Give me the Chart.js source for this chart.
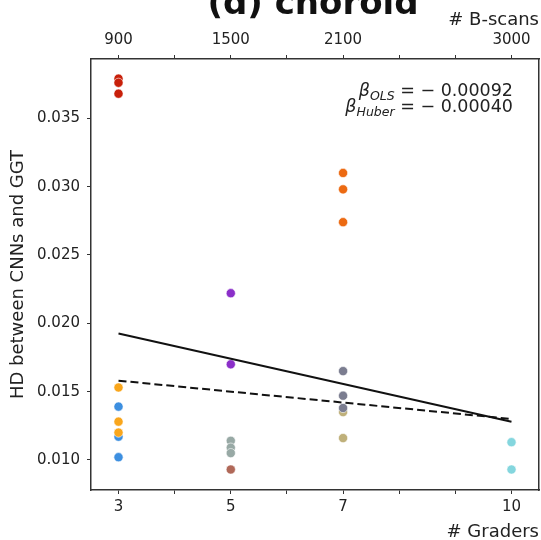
<!DOCTYPE html>
<html>
<head>
<meta charset="utf-8">
<script src="https://cdn.jsdelivr.net/npm/chart.js@4"></script>
<style>
  html, body { margin: 0; padding: 0; background: #fff; }
  canvas { display: block; }
</style>
</head>
<body>
<canvas id="chart" width="541" height="540"></canvas>
<script>
// axis ticks
const graderTicks = [3, 4, 5, 6, 7, 8, 9, 10];
const graderLabels = [3, 5, 7, 10];
const bscanTicks = [900, 1200, 1500, 1800, 2100, 2400, 2700, 3000];
const bscanLabels = [900, 1500, 2100, 3000];
const hdTicks = [0.010, 0.015, 0.020, 0.025, 0.030, 0.035];

// HD values, grouped by number of graders
const hd3Red = [0.0379, 0.0376, 0.0368];
const hd3Blue = [0.0139, 0.0117, 0.0102];
const hd3Amber = [0.0153, 0.0128, 0.0120];
const hd5Purple = [0.0222, 0.0170];
const hd5Gray = [0.0114, 0.0109, 0.0105];
const hd5Brown = [0.0093];
const hd7Khaki = [0.0135, 0.0116];
const hd7Orange = [0.0310, 0.0298, 0.0274];
const hd7Slate = [0.0165, 0.0147, 0.0138];
const hd10Cyan = [0.0113, 0.0093];

// regression lines
const fitX = [3, 10];
const olsFit = [0.01925, 0.0128];
const huberFit = [0.0158, 0.0130];
const betaOLS = '0.00092';
const betaHuber = '0.00040';

const chartTitle = '(d) choroid';
const FONT = '"DejaVu Sans", sans-serif';

function pts(x, values) {
    return values.map(v => ({ x: x, y: v }));
}

function scatterSet(x, values, color) {
    return {
        type: 'scatter',
        data: pts(x, values),
        backgroundColor: color,
        borderColor: '#ffffff',
        borderWidth: 0.6,
        pointRadius: 4.6,
        pointHoverRadius: 4.6
    };
}

function lineSet(values, dash) {
    return {
        type: 'line',
        data: fitX.map((x, i) => ({ x: x, y: values[i] })),
        borderColor: '#111',
        borderWidth: 2,
        borderDash: dash,
        pointRadius: 0,
        fill: false,
        tension: 0
    };
}

// drawing order: first is bottom
const datasets = [
    scatterSet(3, hd3Red, '#c8200a'),
    scatterSet(3, hd3Blue, '#3d8fe0'),
    scatterSet(3, hd3Amber, '#f9a61c'),
    scatterSet(5, hd5Purple, '#8b2fc9'),
    scatterSet(5, hd5Gray, '#98a9a5'),
    scatterSet(5, hd5Brown, '#b06858'),
    scatterSet(7, hd7Khaki, '#bfb07a'),
    scatterSet(7, hd7Orange, '#ec6a12'),
    scatterSet(7, hd7Slate, '#7b7d90'),
    scatterSet(10, hd10Cyan, '#84d6de'),
    lineSet(olsFit, []),
    lineSet(huberFit, [8, 4])
];
datasets.forEach((d, i) => { d.order = datasets.length - i; });

function drawBeta(ctx, sub, value, right, base) {
    const rest = ' = \u2212 ' + value;
    ctx.font = '17.5px ' + FONT;
    let x = right - ctx.measureText(rest).width;
    ctx.fillText(rest, x, base);
    ctx.font = 'italic 12.5px ' + FONT;
    x -= ctx.measureText(sub).width;
    ctx.fillText(sub, x, base + 4);
    ctx.font = 'italic 17.5px ' + FONT;
    x -= ctx.measureText('\u03b2').width;
    ctx.fillText('\u03b2', x, base);
}

const textPlugin = {
    id: 'textPlugin',
    afterDraw(chart) {
        const ctx = chart.ctx;
        ctx.save();
        ctx.fillStyle = '#111';
        ctx.textBaseline = 'alphabetic';
        ctx.textAlign = 'center';
        ctx.font = 'bold 34px ' + FONT;
        ctx.fillText(chartTitle, 313, 14);
        ctx.textAlign = 'left';
        ctx.fillStyle = '#222';
        drawBeta(ctx, 'OLS', betaOLS, 513, 96);
        drawBeta(ctx, 'Huber', betaHuber, 513, 112);
        ctx.restore();
    }
};

const tickFont = { family: FONT, size: 15 };

new Chart(document.getElementById('chart'), {
    data: { datasets: datasets },
    options: {
        responsive: false,
        animation: false,
        devicePixelRatio: 1,
        layout: { padding: 0, autoPadding: false },
        plugins: {
            legend: { display: false },
            tooltip: { enabled: false }
        },
        scales: {
            x: {
                type: 'linear',
                position: 'bottom',
                min: 2.51,
                max: 10.49,
                afterBuildTicks: s => { s.ticks = graderTicks.map(v => ({ value: v })); },
                afterFit: s => { s.height = 50; s.paddingLeft = 0; s.paddingRight = 0; },
                ticks: {
                    font: tickFont,
                    color: '#222',
                    padding: 4,
                    maxRotation: 0,
                    autoSkip: false,
                    callback: v => graderLabels.includes(v) ? String(v) : ''
                },
                grid: { drawOnChartArea: false, tickLength: 4, tickColor: '#333', tickWidth: 1 },
                border: { color: '#333', width: 1.5 },
                title: {
                    display: true,
                    text: '# Graders',
                    align: 'end',
                    color: '#222',
                    font: { family: FONT, size: 18 },
                    padding: { top: 0, bottom: -3 }
                }
            },
            x2: {
                type: 'linear',
                position: 'top',
                min: 753,
                max: 3147,
                afterBuildTicks: s => { s.ticks = bscanTicks.map(v => ({ value: v })); },
                afterFit: s => { s.height = 59; s.paddingLeft = 0; s.paddingRight = 0; },
                ticks: {
                    font: tickFont,
                    color: '#222',
                    padding: 6,
                    maxRotation: 0,
                    autoSkip: false,
                    callback: v => bscanLabels.includes(v) ? String(v) : ''
                },
                grid: { drawOnChartArea: false, tickLength: 4, tickColor: '#333', tickWidth: 1 },
                border: { color: '#333', width: 1.5 },
                title: {
                    display: true,
                    text: '# B-scans',
                    align: 'end',
                    color: '#222',
                    font: { family: FONT, size: 18 },
                    padding: { top: 10, bottom: 0 }
                }
            },
            y: {
                type: 'linear',
                position: 'left',
                min: 0.0078,
                max: 0.03934,
                afterBuildTicks: s => { s.ticks = hdTicks.map(v => ({ value: v })); },
                afterFit: s => { s.width = 91; },
                ticks: {
                    font: tickFont,
                    color: '#222',
                    padding: 7,
                    callback: v => v.toFixed(3)
                },
                grid: { drawOnChartArea: false, tickLength: 4, tickColor: '#333', tickWidth: 1 },
                border: { color: '#333', width: 1.5 },
                title: {
                    display: true,
                    text: 'HD between CNNs and GGT',
                    color: '#222',
                    font: { family: FONT, size: 18 },
                    padding: { top: 8, bottom: 0 }
                }
            },
            y2: {
                type: 'linear',
                position: 'right',
                min: 0.0078,
                max: 0.03934,
                afterFit: s => { s.width = 2; },
                ticks: { display: false },
                grid: { drawOnChartArea: false, drawTicks: false },
                border: { color: '#333', width: 1.5 }
            }
        }
    },
    plugins: [textPlugin]
});
</script>
</body>
</html>
